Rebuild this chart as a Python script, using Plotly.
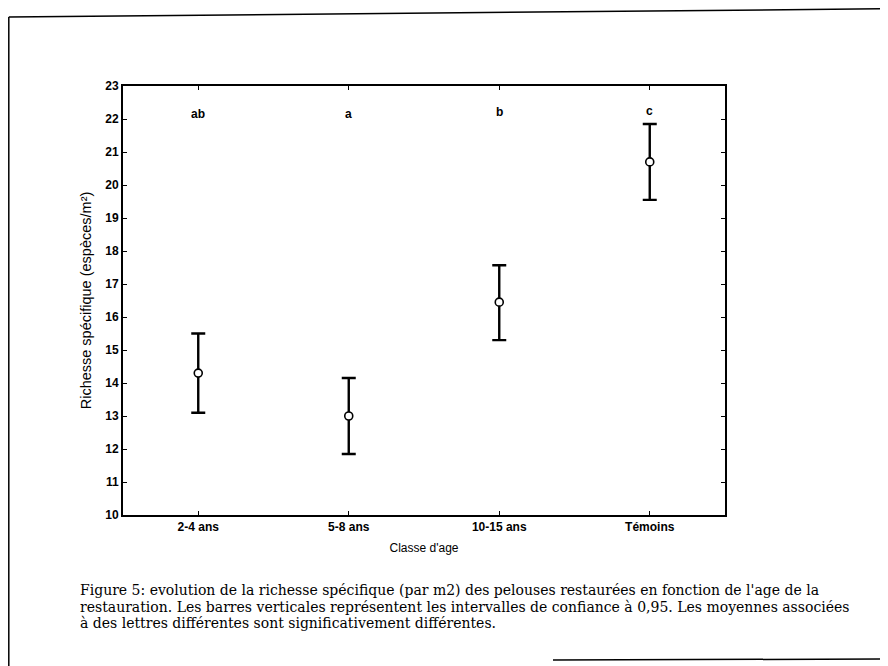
import plotly.graph_objects as go

# ---- data ----
categories = ["2-4 ans", "5-8 ans", "10-15 ans", "Témoins"]
means = [14.3, 13.0, 16.45, 20.7]
ci_low = [13.1, 11.85, 15.3, 19.55]
ci_high = [15.5, 14.15, 17.57, 21.85]
letters = ["ab", "a", "b", "c"]
letter_y = [22.15, 22.15, 22.2, 22.25]
y_ticks = list(range(10, 24))
caption_lines = [
    "Figure 5: evolution de la richesse spécifique (par m2) des pelouses restaurées en fonction de l'age de la",
    "restauration. Les barres verticales représentent les intervalles de confiance à 0,95. Les moyennes associées",
    "à des lettres différentes sont significativement différentes.",
]

# figure is placed by the page with an 8px body margin
W, H = 880, 658
L, R, T, B = 115, 163, 78, 151
PW, PH = W - L - R, H - T - B


def px(x):
    return (x - L) / PW


def py(y):
    return (H - B - y) / PH


xs = list(range(len(categories)))
err_plus = [h - m for h, m in zip(ci_high, means)]
err_minus = [m - l for m, l in zip(means, ci_low)]

fig = go.Figure()
fig.add_trace(go.Scatter(
    x=xs, y=means, mode="markers",
    marker=dict(symbol="circle", size=8, color="white",
                line=dict(color="black", width=1.6)),
    error_y=dict(type="data", symmetric=False, array=err_plus,
                 arrayminus=err_minus, color="black", thickness=2.4, width=7),
    showlegend=False,
))

tickfont = dict(family="Liberation Sans Narrow, Liberation Sans, Arial", size=12, color="black", weight="bold")
titlefont = dict(family="Liberation Sans Narrow, Liberation Sans, Arial", size=12, color="black")

for x, t, yy in zip(xs, letters, letter_y):
    fig.add_annotation(x=x, y=yy, text="<b>" + t + "</b>", showarrow=False,
                       font=titlefont, xanchor="center", yanchor="middle")

cap_y = [582, 599, 615]
for txt, yy in zip(caption_lines, cap_y):
    fig.add_annotation(xref="paper", yref="paper", x=px(70), y=py(yy), text=txt,
                       showarrow=False, xanchor="left", yanchor="middle", align="left",
                       font=dict(family="DejaVu Serif, Liberation Serif, serif", size=14, color="black"))

# scanned page border
line = dict(color="black", width=1.5)
fig.add_shape(type="line", xref="paper", yref="paper", x0=px(0.8), y0=py(9), x1=px(880), y1=py(0.8), line=line)
fig.add_shape(type="line", xref="paper", yref="paper", x0=px(0.8), y0=py(9), x1=px(0.8), y1=py(658), line=line)
fig.add_shape(type="line", xref="paper", yref="paper", x0=px(545), y0=py(652), x1=px(880), y1=py(651), line=line)

fig.update_layout(
    width=W, height=H,
    margin=dict(l=L, r=R, t=T, b=B),
    paper_bgcolor="white", plot_bgcolor="white",
    font=titlefont,
)
fig.update_xaxes(
    range=[-0.5, 3.5], tickvals=xs, ticktext=categories,
    showgrid=False, zeroline=False,
    showline=True, linecolor="black", linewidth=2, mirror="ticks",
    ticks="inside", ticklen=4, tickcolor="black", tickfont=tickfont,
    title=dict(text="Classe d'age", font=titlefont, standoff=10),
)
fig.update_yaxes(
    range=[10, 23], tickvals=y_ticks, ticktext=[str(v) for v in y_ticks],
    showgrid=False, zeroline=False,
    showline=True, linecolor="black", linewidth=2, mirror="ticks",
    ticks="inside", ticklen=4, tickcolor="black", tickfont=tickfont,
    title=dict(text="Richesse spécifique (espèces/m²)",
               font=dict(family="Liberation Sans Narrow, Liberation Sans, Arial", size=14.5, color="black"),
               standoff=10),
)

fig.write_html("out.html")
